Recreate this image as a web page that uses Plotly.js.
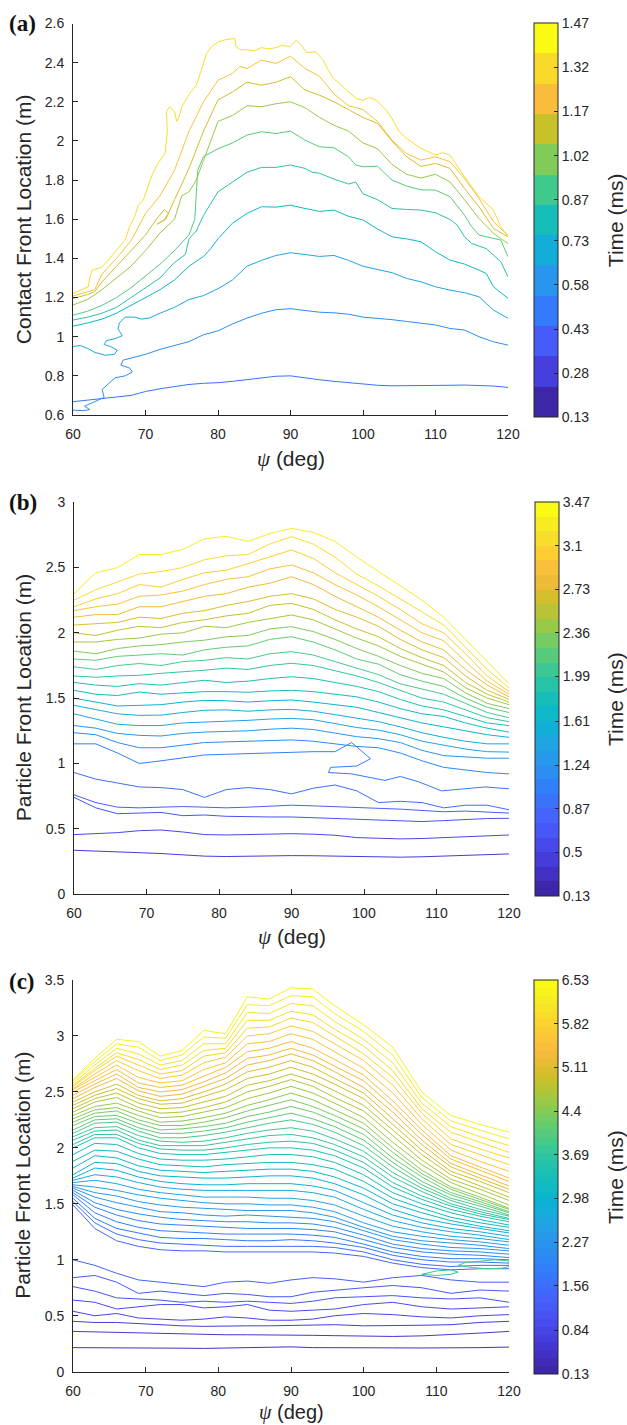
<!DOCTYPE html>
<html><head><meta charset="utf-8">
<script src="https://cdn.plot.ly/plotly-3.0.1.min.js"></script>
<style>html,body{margin:0;padding:0;background:#fff}</style>
</head><body>
<div id="chart" style="width:627px;height:1425px"></div>
<script>
// ---------------- DATA ----------------
const psiTicks = [60, 70, 80, 90, 100, 110, 120];
const timeTicksA = [0.13, 0.28, 0.43, 0.58, 0.73, 0.87, 1.02, 1.17, 1.32, 1.47];
const timeTicksB = [0.13, 0.5, 0.87, 1.24, 1.61, 1.99, 2.36, 2.73, 3.1, 3.47];
const timeTicksC = [0.13, 0.84, 1.56, 2.27, 2.98, 3.69, 4.4, 5.11, 5.82, 6.53];
const bandsA = 13, bandsB = 27, bandsC = 50;

// Panel (a): contact front, 10 contour times (ms)
const timeA = [0.439, 0.542, 0.645, 0.748, 0.852, 0.955, 1.058, 1.161, 1.264, 1.367];
const psiA = [
 [60,62,64,66,68,70,72,74,76,78,80,82,84,86,88,90,92,94,96,98,100,102,104,106,108,110,112,114,116,118,120],
 [60,61.5,62.3,61.6,62.5,63.5,64.3,64.0,64.9,65.8,67.2,68.2,67.8,66.6,66.9,68.5,70,72,74,76,78,80,82,84,86,88,90,92,94,96,98,100,102,104,106,108,110,112,114,116,118,120],
 [60,61,62,63,64.5,65.7,66.1,65.2,64.3,64.6,65.8,66.8,66.2,66.4,67.2,68.5,69.5,70.5,72,74,76,78,80,82,84,86,88,90,92,94,96,98,100,102,104,106,108,110,112,114,116,117,118,120],
 [60,62,64,66,68,70,72,74,76,78,79,80,82,84,86,88,90,92,94,96,98,100,102,104,106,108,110,112,114,116,117,118,120],
 [60,62,64,66,68,70,72,74,75.5,76,77,78,80,82,84,86,88,90,92,93,94,96,98,99,100,102,104,106,108,110,112,113,114,115,116,117,118,119,120],
 [60,62,64,66,68,70,72,74,76,76.8,77.2,78,80,82,84,86,88,90,92,94,96,98,99,100,102,104,106,108,110,112,113,114,115,116,118,119,120],
 [60,62,64,66,68,70,72,74,75,76,77,78,80,82,84,86,88,90,92,94,96,98,100,102,104,106,108,110,112,114,116,118,120],
 [60,62,63,64,66,68,70,71.5,72.6,73.2,72.5,71.6,72.8,74,76,78,80,82,84,86,88,90,92,94,96,98,100,102,104,106,108,110,112,114,116,118,120],
 [60,62,63,64,66,68,70,72,74,76,78,80,82,83,84,86,88,90,92,94,96,98,100,102,104,106,108,110,112,114,116,118,120],
 [60,62.1,62.3,62.6,63.9,64.9,66,67.2,67.8,68.5,69,69.7,70.8,71.7,72.7,73,72.9,73.3,74,74.3,74.6,75,76.1,77,77.7,78.4,79.1,80,81.1,82.3,82.5,83.2,84,85,86,87,88,88.9,89.9,90.8,91.5,92.2,93.5,94.5,95.2,95.9,96.8,97.7,99.1,100,100.9,101.8,103.2,104,105,106,108,110,111,112,114,116,118,119,120]
];
const frontA = [
 [.668,.677,.685,.692,.700,.720,.734,.745,.756,.762,.765,.772,.781,.791,.798,.800,.789,.780,.772,.765,.757,.752,.749,.749,.751,.751,.752,.753,.752,.748,.741],
 [.625,.622,.628,.645,.66,.675,.69,.73,.76,.79,.80,.82,.84,.855,.88,.895,.91,.935,.955,.975,1.01,1.03,1.065,1.095,1.12,1.138,1.143,1.135,1.125,1.122,1.115,1.10,1.094,1.087,1.078,1.07,1.06,1.042,1.034,1.0,.974,.957],
 [.95,.955,.94,.92,.905,.91,.93,.95,.96,.98,.99,1.005,1.04,1.07,1.10,1.10,1.09,1.095,1.12,1.15,1.19,1.21,1.245,1.29,1.36,1.39,1.415,1.429,1.42,1.41,1.415,1.39,1.36,1.345,1.327,1.298,1.28,1.255,1.238,1.225,1.204,1.17,1.136,1.094],
 [1.054,1.07,1.09,1.12,1.16,1.2,1.24,1.29,1.36,1.41,1.45,1.5,1.58,1.63,1.664,1.662,1.672,1.655,1.64,1.647,1.615,1.596,1.55,1.51,1.50,1.485,1.434,1.391,1.371,1.34,1.323,1.255,1.196],
 [1.085,1.10,1.12,1.15,1.2,1.25,1.3,1.38,1.42,1.5,1.54,1.62,1.74,1.79,1.84,1.865,1.865,1.877,1.86,1.84,1.835,1.805,1.78,1.79,1.73,1.70,1.655,1.65,1.647,1.633,1.599,1.57,1.51,1.476,1.463,1.45,1.417,1.383,1.306],
 [1.11,1.13,1.16,1.2,1.25,1.31,1.37,1.44,1.52,1.6,1.85,1.92,1.96,1.99,2.03,2.047,2.038,2.05,2.004,1.97,1.965,1.919,1.877,1.868,1.871,1.80,1.77,1.75,1.749,1.715,1.67,1.621,1.562,1.519,1.502,1.494,1.408],
 [1.162,1.19,1.24,1.3,1.36,1.44,1.53,1.6,1.72,1.74,1.8,1.9,2.1,2.13,2.18,2.175,2.19,2.2,2.17,2.12,2.08,2.05,1.99,1.96,1.88,1.83,1.81,1.83,1.79,1.70,1.604,1.528,1.476],
 [1.195,1.215,1.23,1.28,1.36,1.44,1.52,1.6,1.65,1.63,1.595,1.575,1.6,1.7,1.86,2.05,2.21,2.25,2.3,2.285,2.3,2.328,2.26,2.234,2.2,2.16,2.12,2.09,2.0,1.92,1.87,1.885,1.86,1.757,1.664,1.553,1.51],
 [1.208,1.23,1.24,1.32,1.4,1.49,1.63,1.72,1.85,2.05,2.2,2.31,2.345,2.38,2.37,2.413,2.396,2.433,2.37,2.33,2.24,2.18,2.16,2.1,2.004,1.936,1.902,1.919,1.894,1.808,1.706,1.587,1.519],
 [1.221,1.255,1.298,1.34,1.354,1.392,1.443,1.494,1.562,1.613,1.672,1.698,1.817,1.885,1.936,2.05,2.15,2.175,2.15,2.1,2.12,2.174,2.243,2.285,2.362,2.447,2.481,2.506,2.518,2.523,2.481,2.464,2.467,2.46,2.477,2.47,2.477,2.489,2.481,2.515,2.489,2.452,2.455,2.413,2.362,2.319,2.294,2.26,2.217,2.208,2.222,2.208,2.157,2.115,2.047,2.013,1.962,1.928,1.94,1.928,1.817,1.715,1.647,1.562,1.51]
];

// Panel (b): particle front, 25 contour times (ms)
const timeB = [0.377,0.501,0.625,0.748,0.872,0.996,1.12,1.243,1.367,1.491,1.614,1.738,1.862,1.986,2.109,2.233,2.357,2.481,2.604,2.728,2.852,2.976,3.099,3.223,3.347];
const psiB = [60,63,66,69,72,75,78,81,84,87,90,93,96,99,102,105,108,111,114,117,120];
const psiBloop = [60,63,66,69,72,75,78,81,84,87,90,93,96,98.3,100.9,99,95.4,95.1,98.3,102.9,105,107.5,110.7,113,116.7,120];
const frontB = [
 [.335,.33,.325,.318,.31,.30,.29,.287,.29,.292,.294,.293,.29,.286,.282,.282,.285,.29,.295,.30,.307],
 [.455,.46,.47,.485,.49,.475,.455,.452,.455,.46,.462,.458,.45,.432,.425,.422,.425,.432,.438,.445,.452],
 [.74,.66,.615,.62,.625,.60,.605,.595,.59,.59,.59,.585,.578,.57,.565,.56,.555,.562,.57,.578,.58],
 [.76,.70,.665,.66,.665,.67,.665,.66,.665,.67,.68,.675,.67,.665,.655,.65,.64,.63,.635,.625,.62],
 [.93,.88,.85,.82,.815,.80,.74,.80,.815,.80,.767,.81,.835,.79,.70,.71,.70,.66,.68,.68,.645],
 [1.15,1.15,1.08,1.0,1.02,1.04,1.065,1.07,1.075,1.085,1.09,1.09,1.09,1.16,1.036,0.98,0.97,0.93,0.92,0.87,0.90,0.86,0.79,0.80,0.82,0.806],
 [1.235,1.22,1.16,1.12,1.12,1.14,1.16,1.165,1.17,1.175,1.18,1.17,1.15,1.13,1.12,1.08,1.02,.97,.95,.93,.92],
 [1.29,1.27,1.23,1.215,1.21,1.23,1.24,1.245,1.25,1.262,1.27,1.26,1.235,1.205,1.19,1.16,1.1,1.06,1.05,1.04,1.04],
 [1.38,1.34,1.3,1.29,1.29,1.31,1.317,1.32,1.33,1.34,1.345,1.335,1.305,1.275,1.255,1.22,1.17,1.14,1.11,1.09,1.087],
 [1.445,1.41,1.38,1.368,1.37,1.39,1.407,1.41,1.40,1.41,1.414,1.40,1.375,1.35,1.32,1.28,1.235,1.2,1.17,1.15,1.15],
 [1.5,1.47,1.44,1.445,1.45,1.47,1.483,1.48,1.47,1.48,1.486,1.47,1.45,1.43,1.39,1.35,1.31,1.28,1.25,1.22,1.2],
 [1.56,1.53,1.52,1.547,1.53,1.54,1.55,1.55,1.545,1.555,1.56,1.55,1.53,1.51,1.47,1.42,1.38,1.36,1.31,1.27,1.24],
 [1.62,1.6,1.59,1.611,1.6,1.62,1.637,1.62,1.63,1.65,1.664,1.65,1.62,1.59,1.55,1.49,1.44,1.41,1.36,1.31,1.29],
 [1.67,1.66,1.67,1.675,1.69,1.7,1.714,1.73,1.72,1.75,1.767,1.75,1.71,1.67,1.62,1.56,1.5,1.47,1.41,1.35,1.32],
 [1.74,1.72,1.75,1.765,1.75,1.78,1.79,1.81,1.8,1.84,1.856,1.83,1.78,1.73,1.68,1.61,1.57,1.53,1.46,1.39,1.35],
 [1.8,1.79,1.82,1.83,1.84,1.83,1.87,1.89,1.9,1.95,1.97,1.93,1.87,1.8,1.76,1.68,1.63,1.59,1.5,1.43,1.39],
 [1.86,1.84,1.88,1.9,1.91,1.93,1.944,1.97,1.98,2.03,2.047,2.01,1.95,1.88,1.82,1.75,1.69,1.65,1.54,1.46,1.42],
 [1.93,1.93,1.95,1.96,1.99,2.0,2.05,2.04,2.08,2.11,2.137,2.1,2.03,1.96,1.9,1.82,1.76,1.7,1.58,1.5,1.45],
 [2.0,1.98,2.02,2.05,2.04,2.08,2.1,2.13,2.15,2.21,2.226,2.18,2.1,2.03,1.97,1.88,1.81,1.75,1.62,1.53,1.47],
 [2.06,2.07,2.08,2.12,2.11,2.15,2.17,2.21,2.24,2.28,2.3,2.26,2.18,2.12,2.05,1.95,1.87,1.81,1.67,1.56,1.49],
 [2.12,2.14,2.14,2.2,2.2,2.24,2.28,2.3,2.35,2.38,2.43,2.37,2.28,2.2,2.12,2.02,1.93,1.87,1.72,1.6,1.51],
 [2.17,2.2,2.22,2.28,2.29,2.32,2.37,2.41,2.43,2.49,2.52,2.46,2.37,2.29,2.2,2.1,2.0,1.94,1.78,1.63,1.53],
 [2.2,2.26,2.3,2.37,2.35,2.41,2.46,2.48,2.53,2.58,2.635,2.57,2.46,2.37,2.28,2.18,2.07,2.0,1.84,1.67,1.55],
 [2.25,2.33,2.39,2.45,2.47,2.5,2.56,2.59,2.6,2.68,2.737,2.68,2.58,2.45,2.36,2.26,2.16,2.06,1.89,1.72,1.58],
 [2.3,2.46,2.5,2.6,2.6,2.64,2.72,2.74,2.7,2.76,2.8,2.77,2.7,2.58,2.47,2.36,2.25,2.12,1.95,1.78,1.61]
];

// Panel (c): particle front, 48 contour times (ms)
const timeC = [0.386,0.514,0.642,0.77,0.898,1.026,1.154,1.282,1.41,1.538,1.666,1.794,1.922,2.05,2.178,2.306,2.434,2.562,2.69,2.818,2.946,3.074,3.202,3.33,3.458,3.586,3.714,3.842,3.97,4.098,4.226,4.354,4.482,4.61,4.738,4.866,4.994,5.122,5.25,5.378,5.506,5.634,5.762,5.89,6.018,6.146,6.274,6.402];
const psiC = [60,63,66,69,72,75,78,81,84,87,90,93,96,100,104,108,112,116,120];
const frontC = [
 [.215,.215,.213,.212,.21,.21,.208,.21,.212,.22,.222,.215,.213,.212,.213,.212,.212,.215,.22],
 [.36,.355,.35,.345,.34,.335,.33,.33,.33,.33,.33,.325,.322,.32,.315,.32,.33,.345,.36],
 [.45,.44,.44,.43,.415,.41,.405,.41,.41,.41,.415,.42,.42,.41,.41,.415,.42,.44,.45],
 [.54,.50,.52,.48,.47,.46,.47,.49,.48,.46,.46,.47,.50,.52,.51,.49,.48,.50,.51],
 [.64,.62,.56,.58,.60,.60,.57,.58,.60,.55,.54,.55,.56,.60,.62,.58,.56,.57,.58],
 [.76,.72,.66,.65,.64,.62,.63,.62,.63,.62,.61,.63,.66,.67,.68,.66,.65,.66,.62],
 [.84,.86,.80,.70,.72,.70,.68,.70,.69,.67,.67,.71,.73,.75,.77,.75,.70,.73,.72],
 [1.0,.95,.88,.82,.80,.78,.76,.80,.81,.79,.82,.84,.83,.80,.84,.86,.82,.80,.80],
 [1.49,1.28,1.17,1.12,1.09,1.08,1.08,1.07,1.07,1.07,1.07,1.07,1.06,1.03,0.97,0.93,0.91,0.92,0.92],
 [1.52,1.33,1.23,1.18,1.15,1.14,1.13,1.12,1.12,1.12,1.12,1.12,1.11,1.07,1.00,0.96,0.94,0.95,0.95],
 [1.55,1.37,1.28,1.24,1.20,1.19,1.19,1.18,1.17,1.17,1.18,1.17,1.15,1.11,1.04,1.00,0.98,0.98,0.97],
 [1.58,1.42,1.34,1.29,1.26,1.25,1.24,1.23,1.23,1.23,1.23,1.22,1.20,1.14,1.07,1.03,1.01,1.01,1.00],
 [1.60,1.47,1.40,1.35,1.32,1.31,1.30,1.29,1.28,1.28,1.28,1.27,1.25,1.18,1.11,1.07,1.05,1.04,1.02],
 [1.62,1.51,1.45,1.41,1.38,1.36,1.35,1.34,1.34,1.33,1.33,1.32,1.29,1.22,1.14,1.10,1.08,1.07,1.05],
 [1.64,1.56,1.51,1.47,1.43,1.42,1.40,1.39,1.40,1.39,1.38,1.37,1.34,1.26,1.18,1.14,1.11,1.10,1.08],
 [1.655,1.60,1.57,1.52,1.49,1.47,1.46,1.45,1.44,1.44,1.44,1.42,1.38,1.29,1.21,1.17,1.15,1.13,1.10],
 [1.67,1.65,1.62,1.58,1.55,1.53,1.51,1.50,1.50,1.49,1.49,1.47,1.43,1.33,1.25,1.21,1.18,1.16,1.13],
 [1.69,1.71,1.68,1.63,1.60,1.58,1.56,1.56,1.56,1.55,1.55,1.53,1.49,1.39,1.30,1.25,1.21,1.19,1.16],
 [1.71,1.76,1.74,1.69,1.65,1.63,1.62,1.62,1.62,1.62,1.62,1.60,1.56,1.45,1.35,1.29,1.25,1.22,1.18],
 [1.73,1.82,1.80,1.74,1.70,1.68,1.67,1.67,1.68,1.68,1.68,1.66,1.62,1.51,1.40,1.33,1.28,1.25,1.21],
 [1.76,1.87,1.86,1.79,1.75,1.74,1.73,1.73,1.74,1.75,1.75,1.73,1.68,1.58,1.45,1.37,1.32,1.28,1.24],
 [1.82,1.93,1.91,1.84,1.80,1.79,1.78,1.79,1.80,1.81,1.81,1.79,1.74,1.64,1.50,1.42,1.35,1.30,1.26],
 [1.88,1.98,1.97,1.90,1.85,1.84,1.83,1.85,1.86,1.87,1.87,1.85,1.81,1.70,1.55,1.46,1.38,1.33,1.29],
 [1.94,2.04,2.03,1.95,1.90,1.89,1.89,1.90,1.92,1.94,1.94,1.92,1.87,1.76,1.60,1.50,1.42,1.36,1.31],
 [2.00,2.09,2.09,2.00,1.95,1.94,1.94,1.96,1.98,2.00,2.00,1.98,1.93,1.82,1.65,1.54,1.45,1.39,1.34],
 [2.03,2.12,2.12,2.04,1.99,1.98,1.98,2.00,2.03,2.05,2.06,2.04,1.98,1.87,1.69,1.57,1.48,1.41,1.36],
 [2.07,2.15,2.16,2.07,2.02,2.02,2.02,2.05,2.08,2.11,2.12,2.09,2.03,1.92,1.74,1.61,1.50,1.43,1.37],
 [2.10,2.18,2.19,2.11,2.06,2.05,2.06,2.09,2.13,2.16,2.18,2.15,2.08,1.97,1.78,1.64,1.53,1.45,1.39],
 [2.13,2.22,2.23,2.15,2.09,2.09,2.11,2.14,2.18,2.22,2.25,2.21,2.14,2.02,1.83,1.67,1.55,1.48,1.40],
 [2.16,2.25,2.26,2.18,2.13,2.13,2.15,2.18,2.23,2.27,2.31,2.26,2.19,2.07,1.87,1.70,1.58,1.50,1.42],
 [2.20,2.28,2.29,2.22,2.16,2.17,2.19,2.22,2.28,2.32,2.37,2.32,2.24,2.12,1.91,1.74,1.60,1.52,1.43],
 [2.23,2.31,2.33,2.25,2.20,2.20,2.23,2.27,2.33,2.38,2.43,2.37,2.29,2.17,1.96,1.77,1.63,1.54,1.45],
 [2.26,2.34,2.36,2.29,2.23,2.24,2.27,2.31,2.38,2.43,2.49,2.43,2.34,2.22,2.00,1.80,1.65,1.56,1.46],
 [2.29,2.37,2.40,2.33,2.27,2.28,2.32,2.36,2.44,2.49,2.55,2.49,2.40,2.27,2.05,1.85,1.69,1.59,1.49],
 [2.32,2.41,2.45,2.36,2.31,2.32,2.36,2.41,2.50,2.55,2.61,2.55,2.45,2.33,2.11,1.89,1.72,1.63,1.53],
 [2.35,2.44,2.49,2.40,2.35,2.36,2.41,2.46,2.56,2.60,2.66,2.60,2.51,2.38,2.16,1.94,1.76,1.66,1.56],
 [2.38,2.47,2.53,2.44,2.39,2.40,2.46,2.52,2.62,2.66,2.72,2.66,2.57,2.44,2.21,1.98,1.79,1.70,1.60],
 [2.41,2.50,2.57,2.47,2.42,2.44,2.50,2.57,2.68,2.72,2.78,2.72,2.62,2.49,2.26,2.03,1.83,1.73,1.63],
 [2.44,2.54,2.62,2.51,2.46,2.48,2.55,2.62,2.74,2.78,2.84,2.78,2.68,2.54,2.32,2.07,1.86,1.76,1.66],
 [2.47,2.57,2.66,2.54,2.50,2.52,2.59,2.67,2.80,2.83,2.89,2.83,2.73,2.60,2.37,2.12,1.90,1.80,1.70],
 [2.50,2.60,2.70,2.58,2.54,2.56,2.64,2.72,2.86,2.89,2.95,2.89,2.79,2.65,2.42,2.16,1.93,1.83,1.73],
 [2.52,2.63,2.74,2.63,2.58,2.60,2.70,2.76,2.93,2.95,3.02,2.97,2.86,2.71,2.49,2.21,1.98,1.88,1.79],
 [2.53,2.66,2.78,2.69,2.62,2.65,2.76,2.81,3.00,3.02,3.09,3.04,2.93,2.78,2.56,2.26,2.03,1.94,1.85],
 [2.55,2.69,2.82,2.74,2.66,2.69,2.82,2.85,3.07,3.08,3.16,3.12,3.00,2.84,2.63,2.31,2.08,1.99,1.91],
 [2.56,2.71,2.85,2.79,2.70,2.74,2.87,2.89,3.14,3.14,3.22,3.19,3.06,2.91,2.69,2.35,2.14,2.05,1.96],
 [2.58,2.74,2.89,2.84,2.74,2.78,2.93,2.93,3.21,3.20,3.29,3.27,3.13,2.97,2.76,2.40,2.19,2.10,2.02],
 [2.60,2.77,2.93,2.90,2.78,2.83,2.99,2.98,3.28,3.27,3.36,3.35,3.20,3.04,2.83,2.45,2.24,2.16,2.08],
 [2.61,2.80,2.97,2.95,2.82,2.87,3.05,3.02,3.35,3.33,3.43,3.42,3.27,3.10,2.90,2.50,2.29,2.21,2.14]
];
// small closed contours (islands) in panel (c)
const islandTimeC = [3.97, 3.714];
const islandPsiC = [[113,115,117,119,120,120,118,116,114,113],[108,110,112,113,112,110,108]];
const islandFrontC = [[.95,.93,.92,.925,.94,.99,1.0,.985,.975,.95],[.87,.86,.87,.89,.91,.9,.87]];

// ---------------- STYLE / LAYOUT ----------------
const W = 627, H = 1425;
const FONT = 'Liberation Sans, Arial, Helvetica, sans-serif';
const INK = '#262626';
const PARULA = [[0,[62,38,168]],[4/63,[69,55,213]],[8/63,[72,77,240]],[12/63,[69,99,253]],[16/63,[50,124,252]],[20/63,[43,145,239]],[24/63,[32,165,227]],[28/63,[8,181,208]],[32/63,[25,191,182]],[36/63,[55,200,151]],[40/63,[100,205,111]],[44/63,[157,201,67]],[48/63,[209,191,39]],[52/63,[248,186,61]],[56/63,[252,207,48]],[60/63,[245,233,36]],[1,[249,251,21]]];
function parula(t){
  t = Math.max(0, Math.min(1, t));
  for (let i = 1; i < PARULA.length; i++) {
    if (t <= PARULA[i][0]) {
      const t0 = PARULA[i-1][0], c0 = PARULA[i-1][1], t1 = PARULA[i][0], c1 = PARULA[i][1];
      const f = (t - t0) / (t1 - t0);
      return 'rgb(' + c0.map((v, j) => Math.round(v + (c1[j] - v) * f)).join(',') + ')';
    }
  }
  return 'rgb(249,251,21)';
}
function bandScale(n){
  const s = [];
  for (let j = 0; j < n; j++) { const c = parula(j / (n - 1)); s.push([j / n, c]); s.push([(j + 1) / n, c]); }
  return s;
}

const panels = [
  {xa:'x', ya:'y', xs:psiA, ys:frontA, times:timeA, ticks:timeTicksA, bands:bandsA,
   xpx:[73,508], ypx:[23.5,415], yr:[0.6,2.6], dt:0.2, cb:[534,23.3,417], label:'(a)', ytitle:'Contact Front Location (m)', xtY:459, labY:24},
  {xa:'x2', ya:'y2', xs:frontB.map((_, i) => i === 5 ? psiBloop : psiB), ys:frontB, times:timeB, ticks:timeTicksB, bands:bandsB,
   xpx:[74,509], ypx:[502.3,894], yr:[0,3], dt:0.5, cb:[535,502,896], label:'(b)', ytitle:'Particle Front Location (m)', xtY:937, labY:502.5},
  {xa:'x3', ya:'y3', xs:frontC.map(() => psiC), ys:frontC, times:timeC, ticks:timeTicksC, bands:bandsC,
   xpx:[73,509], ypx:[980,1371.7], yr:[0,3.5], dt:0.5, cb:[534,980,1374], label:'(c)', ytitle:'Particle Front Location (m)', xtY:1412, labY:981.7}
];

const traces = [];
const layout = {width:W, height:H, margin:{l:0,r:0,t:0,b:0}, paper_bgcolor:'#fff', plot_bgcolor:'#fff',
  font:{family:FONT, color:INK}, showlegend:false, annotations:[]};

panels.forEach((p, k) => {
  const tmin = p.ticks[0], tmax = p.ticks[p.ticks.length - 1];
  p.ys.forEach((yv, i) => {
    traces.push({type:'scatter', mode:'lines', x:p.xs[i], y:yv, xaxis:p.xa, yaxis:p.ya,
      line:{color:parula((p.times[i] - tmin) / (tmax - tmin)), width:1}, hoverinfo:'skip', showlegend:false});
  });
  if (k === 2) {
    islandFrontC.forEach((yv, i) => traces.push({type:'scatter', mode:'lines', x:islandPsiC[i], y:yv, xaxis:p.xa, yaxis:p.ya,
      line:{color:parula((islandTimeC[i] - tmin) / (tmax - tmin)), width:1}, hoverinfo:'skip', showlegend:false}));
  }
  // colorbar carrier
  traces.push({type:'scatter', mode:'markers', x:[60,60], y:[p.yr[0],p.yr[0]], xaxis:p.xa, yaxis:p.ya, hoverinfo:'skip', showlegend:false,
    marker:{size:1, opacity:0, color:[tmin,tmax], cmin:tmin, cmax:tmax, colorscale:bandScale(p.bands), showscale:true,
      colorbar:{x:p.cb[0]/W, xanchor:'left', y:1 - p.cb[1]/H, yanchor:'top', len:p.cb[2]-p.cb[1], lenmode:'pixels',
        thickness:24, thicknessmode:'pixels', xpad:0, ypad:0, outlinewidth:1, outlinecolor:INK,
        tickmode:'array', tickvals:p.ticks, ticktext:p.ticks.map(String), ticks:'inside', ticklen:4, tickcolor:INK, tickwidth:1,
        tickfont:{family:FONT, size:14, color:INK}}}});
  const suf = k === 0 ? '' : String(k + 1);
  layout['xaxis' + suf] = {domain:[p.xpx[0]/W, p.xpx[1]/W], range:[60,120], anchor:p.ya, tickmode:'array', tickvals:psiTicks,
    ticks:'inside', ticklen:5, tickcolor:INK, tickwidth:1, showline:true, linecolor:INK, linewidth:1, showgrid:false, zeroline:false,
    tickfont:{family:FONT, size:14, color:INK}, ticklabelstandoff:6, fixedrange:true};
  layout['yaxis' + suf] = {domain:[1 - p.ypx[1]/H, 1 - p.ypx[0]/H], range:p.yr, anchor:p.xa, tickmode:'linear', tick0:p.yr[0], dtick:p.dt,
    ticks:'inside', ticklen:5, tickcolor:INK, tickwidth:1, showline:true, linecolor:INK, linewidth:1, showgrid:false, zeroline:false,
    tickfont:{family:FONT, size:14, color:INK}, ticklabelstandoff:5, fixedrange:true};
  const midY = (p.ypx[0] + p.ypx[1]) / 2;
  const xtSize = k === 2 ? 20 : 21;
  layout.annotations.push(
    {xref:'paper', yref:'paper', x:23/W, y:1 - midY/H, text:p.ytitle, textangle:-90, showarrow:false, xanchor:'center', yanchor:'middle', font:{family:FONT, size:21, color:INK}},
    {xref:'paper', yref:'paper', x:((p.xpx[0] + p.xpx[1]) / 2)/W, y:1 - p.xtY/H, text:'<span style="font-family:\'Liberation Serif\',serif;font-style:italic">ψ</span> (deg)', showarrow:false, xanchor:'center', yanchor:'middle', font:{family:FONT, size:xtSize, color:INK}},
    {xref:'paper', yref:'paper', x:615/W, y:1 - ((p.cb[1] + p.cb[2]) / 2)/H, text:'Time (ms)', textangle:-90, showarrow:false, xanchor:'center', yanchor:'middle', font:{family:FONT, size:21, color:INK}},
    {xref:'paper', yref:'paper', x:7/W, y:1 - p.labY/H, text:'<b>' + p.label + '</b>', showarrow:false, xanchor:'left', yanchor:'middle', font:{family:'Liberation Serif, Times New Roman, serif', size:23, color:'#111'}}
  );
});

Plotly.newPlot('chart', traces, layout, {displayModeBar:false, staticPlot:true});
</script>
</body></html>
